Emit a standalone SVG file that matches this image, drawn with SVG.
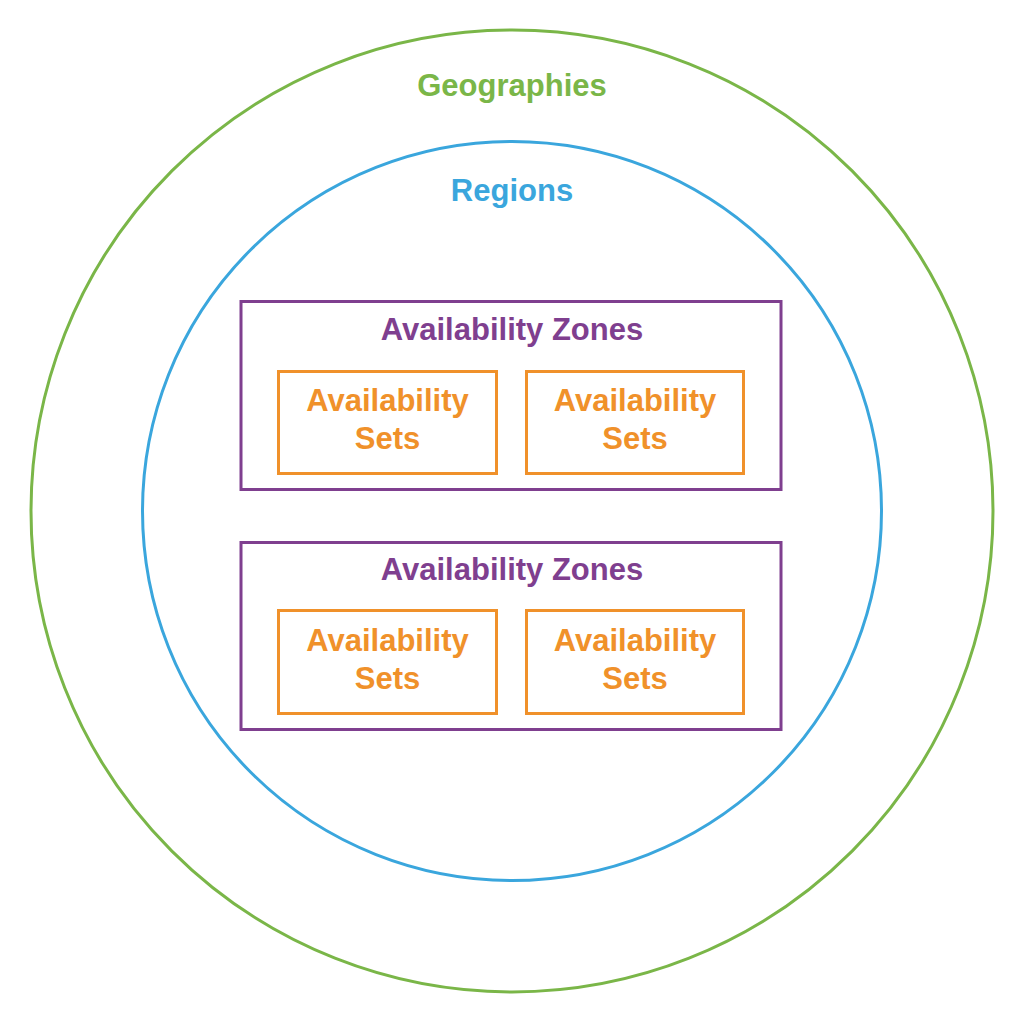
<svg xmlns="http://www.w3.org/2000/svg" width="1024" height="1024" viewBox="0 0 1024 1024">
<style>
text{font-family:"Liberation Sans",Arial,sans-serif;font-weight:bold;text-anchor:middle;font-size:31px}
.geo{fill:none;stroke:#7ab648;stroke-width:3}
.reg{fill:none;stroke:#3aa6dd;stroke-width:3}
.az{fill:none;stroke:#7f3f8f;stroke-width:3}
.as{fill:none;stroke:#f0912a;stroke-width:3}
.tgeo{fill:#7ab648}
.treg{fill:#3aa6dd}
.taz{fill:#7f3f8f}
.tas{fill:#f0912a}
</style>
<rect width="1024" height="1024" fill="#fff"/>
<g id="geographies">
<circle class="geo" cx="512" cy="511" r="481"/>
<text class="tgeo" x="512" y="96">Geographies</text>
</g>
<g id="regions">
<circle class="reg" cx="512" cy="511" r="369.5"/>
<text class="treg" x="512" y="201">Regions</text>
</g>
<g id="az1">
<rect class="az" x="241" y="301.5" width="540" height="188"/>
<text class="taz" x="512" y="340">Availability Zones</text>
</g>
<g id="as1">
<rect class="as" x="278.5" y="371.5" width="218" height="102"/>
<text class="tas" x="387.5" y="411">Availability</text>
<text class="tas" x="387.5" y="449">Sets</text>
</g>
<g id="as2">
<rect class="as" x="526.5" y="371.5" width="217" height="102"/>
<text class="tas" x="635" y="411">Availability</text>
<text class="tas" x="635" y="449">Sets</text>
</g>
<g id="az2">
<rect class="az" x="241" y="542.5" width="540" height="187"/>
<text class="taz" x="512" y="580">Availability Zones</text>
</g>
<g id="as3">
<rect class="as" x="278.5" y="610.5" width="218" height="103"/>
<text class="tas" x="387.5" y="651">Availability</text>
<text class="tas" x="387.5" y="689">Sets</text>
</g>
<g id="as4">
<rect class="as" x="526.5" y="610.5" width="217" height="103"/>
<text class="tas" x="635" y="651">Availability</text>
<text class="tas" x="635" y="689">Sets</text>
</g>
<g id="connectors"/>
</svg>
